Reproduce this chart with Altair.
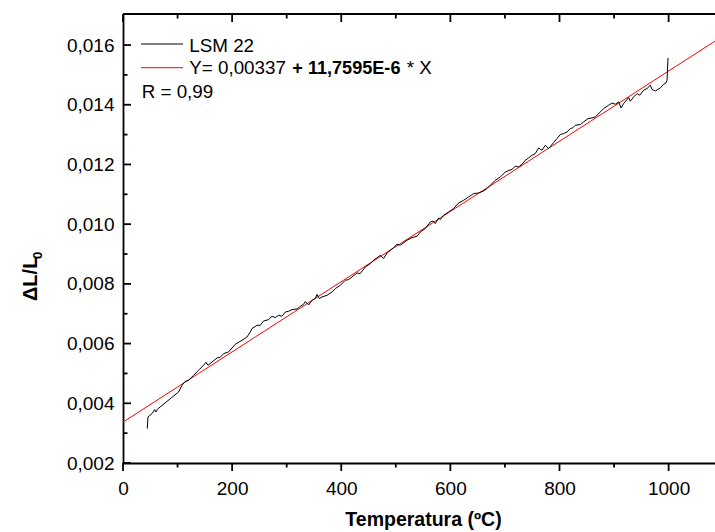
import altair as alt
import pandas as pd

# ---- data ----
temp = [44.5, 45.8, 49.5, 53.7, 57.9, 60.5, 62.9, 101.9, 108.1, 114.2, 120.2, 129.4, 138.6, 147.7, 152.1,
        155.8, 163.1, 172.3, 178.3, 184.4, 193.5, 205.8, 218.1, 227.3, 233.3, 236.4, 245.6, 251.6, 257.7,
        266.9, 273.1, 279.1, 285.2, 291.4, 297.5, 303.5, 309.8, 318.9, 325.0, 331.0, 334.1, 340.2, 346.4,
        352.5, 355.6, 359.8, 364.7, 373.9, 383.1, 389.1, 398.3, 407.4, 413.5, 419.7, 428.9, 434.9, 444.1,
        453.3, 459.3, 471.6, 477.6, 483.9, 496.0, 502.2, 508.2, 520.5, 529.7, 538.9, 544.9, 554.1, 563.2,
        568.2, 572.4, 578.5, 581.6, 587.6, 596.8, 605.9, 615.1, 624.3, 633.4, 642.6, 651.8, 660.9, 667.2,
        673.2, 682.4, 691.5, 700.7, 713.0, 719.0, 725.1, 731.3, 737.4, 743.4, 749.6, 755.7, 761.7, 768.0,
        774.0, 780.1, 789.2, 795.5, 801.5, 807.6, 813.8, 819.8, 824.1, 829.0, 838.2, 844.2, 852.3, 859.6,
        865.7, 874.8, 880.9, 890.0, 896.3, 902.3, 908.4, 912.8, 917.5, 926.7, 929.8, 935.9, 942.1, 946.9,
        954.2, 960.4, 966.5, 969.6, 975.6, 984.8, 990.8, 995.2, 997.1, 998.9]

dl = [0.003152, 0.003541, 0.003598, 0.003665, 0.003789, 0.003709, 0.003799, 0.004379, 0.004603, 0.004737,
      0.004771, 0.004938, 0.005106, 0.005273, 0.005374, 0.005273, 0.005384, 0.005518, 0.005541, 0.005665,
      0.005719, 0.005977, 0.006111, 0.006221, 0.006389, 0.006503, 0.006613, 0.006613, 0.006757, 0.006804,
      0.006915, 0.006871, 0.006948, 0.006915, 0.007059, 0.007082, 0.007139, 0.007159, 0.00725, 0.007317,
      0.007407, 0.007293, 0.007451, 0.007507, 0.007651, 0.007507, 0.007561, 0.007618, 0.007729, 0.007843,
      0.007953, 0.008121, 0.008144, 0.008231, 0.008365, 0.008345, 0.008566, 0.00868, 0.00879, 0.008958,
      0.008848, 0.009035, 0.009216, 0.009327, 0.009293, 0.009461, 0.009551, 0.009595, 0.009739, 0.009853,
      0.010074, 0.010107, 0.01002, 0.010208, 0.010154, 0.010298, 0.010409, 0.010523, 0.01071, 0.010801,
      0.010911, 0.011025, 0.011045, 0.011112, 0.011193, 0.011303, 0.011471, 0.011581, 0.011749, 0.011839,
      0.01194, 0.011916, 0.012007, 0.012141, 0.012218, 0.012308, 0.012365, 0.012553, 0.012476, 0.012643,
      0.012533, 0.012734, 0.012868, 0.013002, 0.013035, 0.013089, 0.013203, 0.013223, 0.013313, 0.013337,
      0.013424, 0.013538, 0.013558, 0.013591, 0.013759, 0.013873, 0.013983, 0.01406, 0.014017, 0.014094,
      0.013893, 0.01404, 0.014241, 0.014117, 0.014261, 0.014375, 0.014318, 0.014486, 0.014543, 0.014653,
      0.01451, 0.014462, 0.014563, 0.014687, 0.01473, 0.01482, 0.015568]

# linear fit endpoints (Y = 0,00337 + 11,7595E-6 * X)
fit_x = [0, 1085]
fit_y = [0.00337, 0.01613]

x_domain = [0, 1085]
y_domain = [0.002, 0.01704]
x_major = [0, 200, 400, 600, 800, 1000]
x_minor = [100, 300, 500, 700, 900]
y_major = [0.002, 0.004, 0.006, 0.008, 0.010, 0.012, 0.014, 0.016]
y_minor = [0.003, 0.005, 0.007, 0.009, 0.011, 0.013, 0.015]

legend_series = "LSM 22"
legend_fit_a = "Y= 0,00337"
legend_fit_b = "+ 11,7595E-6"
legend_fit_c = "* X"
legend_r = "R = 0,99"
x_title = "Temperatura (ºC)"
y_title_main = "ΔL/L"
y_title_sub = "0"

W, H = 592, 449
FONT = "Liberation Sans"
AXW = 1.8

df = pd.DataFrame({"T": temp, "dL": dl, "i": range(len(temp))})
fit_df = pd.DataFrame({"T": fit_x, "dL": fit_y})
one = pd.DataFrame({"k": [0]})

xs = alt.Scale(domain=x_domain, nice=False, zero=False)
ys = alt.Scale(domain=y_domain, nice=False, zero=False)

x_axis = alt.Axis(values=x_major, ticks=False, grid=False, domain=True, domainColor="black",
                  domainWidth=AXW, labelFont=FONT, labelFontSize=19, labelColor="black",
                  labelPadding=16, labelFlush=False, labelExpr="format(datum.value, 'd')",
                  title=x_title, titleFont=FONT, titleFontSize=19.5, titleFontWeight="bold",
                  titleColor="black", titleX=300, titleY=62, titleBaseline="alphabetic",
                  titleAlign="center")
y_axis = alt.Axis(values=y_major, ticks=False, grid=False, domain=True, domainColor="black",
                  domainWidth=AXW, labelFont=FONT, labelFontSize=19, labelColor="black",
                  labelPadding=9, labelFlush=False,
                  labelExpr="replace(format(datum.value, '.3f'), '.', ',')",
                  title=None)

data_line = alt.Chart(df).mark_line(color="black", strokeWidth=1, clip=True).encode(
    x=alt.X("T:Q", scale=xs, axis=x_axis),
    y=alt.Y("dL:Q", scale=ys, axis=y_axis),
    order="i:Q",
)

fit_line = alt.Chart(fit_df).mark_line(color="#ff0000", strokeWidth=1, clip=True).encode(
    x=alt.X("T:Q", scale=xs), y=alt.Y("dL:Q", scale=ys)
)

# ticks
xmaj = pd.DataFrame({"v": x_major})
xmin = pd.DataFrame({"v": x_minor})
ymaj = pd.DataFrame({"v": y_major})
ymin = pd.DataFrame({"v": y_minor})

bot_maj = alt.Chart(xmaj).mark_rule(color="black", strokeWidth=AXW).encode(
    x=alt.X("v:Q", scale=xs), y=alt.value(H), y2=alt.value(H + 8))
bot_min = alt.Chart(xmin).mark_rule(color="black", strokeWidth=AXW).encode(
    x=alt.X("v:Q", scale=xs), y=alt.value(H), y2=alt.value(H + 4.5))
top_maj = alt.Chart(xmaj).mark_rule(color="black", strokeWidth=AXW).encode(
    x=alt.X("v:Q", scale=xs), y=alt.value(0), y2=alt.value(8))
top_min = alt.Chart(xmin).mark_rule(color="black", strokeWidth=AXW).encode(
    x=alt.X("v:Q", scale=xs), y=alt.value(0), y2=alt.value(4.5))
left_maj = alt.Chart(ymaj).mark_rule(color="black", strokeWidth=AXW).encode(
    y=alt.Y("v:Q", scale=ys), x=alt.value(0), x2=alt.value(8))
left_min = alt.Chart(ymin).mark_rule(color="black", strokeWidth=AXW).encode(
    y=alt.Y("v:Q", scale=ys), x=alt.value(0), x2=alt.value(4.5))
top_line = alt.Chart(one).mark_rule(color="black", strokeWidth=AXW).encode(
    x=alt.value(0), x2=alt.value(W), y=alt.value(0))

# legend
leg_black = alt.Chart(one).mark_rule(color="black", strokeWidth=1).encode(
    x=alt.value(18), x2=alt.value(60), y=alt.value(30))
leg_red = alt.Chart(one).mark_rule(color="#ff0000", strokeWidth=1).encode(
    x=alt.value(18), x2=alt.value(60), y=alt.value(53.7))


def txt(s, x, y, bold=False, size=18.8, angle=0):
    return alt.Chart(one).mark_text(align="left", baseline="alphabetic", font=FONT, fontSize=size,
                                    fontWeight="bold" if bold else "normal", color="black",
                                    angle=angle).encode(
        x=alt.value(x), y=alt.value(y), text=alt.value(s))


leg_t1 = txt(legend_series, 66.3, 37.7)
leg_t2a = txt(legend_fit_a, 66.3, 60.3)
leg_t2b = txt(legend_fit_b, 169.3, 60.3, bold=True, size=18.1)
leg_t2c = txt(legend_fit_c, 283.7, 60.3)
leg_t3 = txt(legend_r, 18.7, 84.3)

# y title (rotated, with subscript)
yt_main = txt(y_title_main, -86, 287, bold=True, size=20, angle=270)
yt_sub = txt(y_title_sub, -81, 245, bold=True, size=13, angle=270)

chart = alt.layer(
    fit_line, data_line,
    bot_maj, bot_min, top_maj, top_min, left_maj, left_min, top_line,
    leg_black, leg_red, leg_t1, leg_t2a, leg_t2b, leg_t2c, leg_t3,
    yt_main, yt_sub,
).properties(
    width=W, height=H,
    autosize=alt.AutoSizeParams(type="none"),
    padding={"left": 123, "top": 14, "right": 0, "bottom": 69},
    background="white",
).configure_view(stroke=None)

chart.save("out.html", embed_options={"renderer": "svg", "actions": False})
